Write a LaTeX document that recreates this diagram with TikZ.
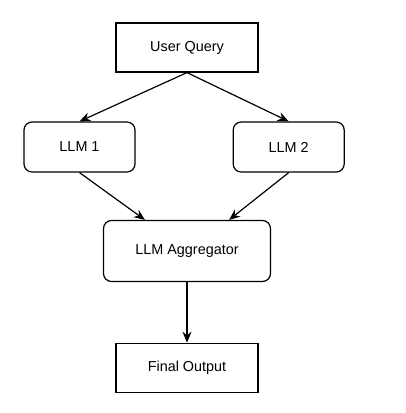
\documentclass[tikz,border=0pt]{standalone}
\usepackage{fontspec}
\setmainfont{Liberation Sans}
\usetikzlibrary{arrows.meta,calc}

\begin{document}
\begin{tikzpicture}[x=1pt,y=-1pt,>={Stealth[length=11pt,width=9pt]},line width=1.2pt,
box/.style={draw,minimum width=142pt,minimum height=49pt,inner sep=0pt,font=\fontsize{14.4}{17}\selectfont},
rbox/.style={box,rounded corners=8pt}]
\useasboundingbox(0,0)rectangle(406,413);
\node[box](query)at(187,47.5){User Query};
\node[rbox,minimum width=111pt,minimum height=50pt](llma)at(79.5,147){LLM 1};
\node[rbox,minimum width=111pt,minimum height=50pt](llmb)at(288.7,147){LLM 2};
\node[rbox,minimum width=167pt,minimum height=61pt](agg)at(187,251){LLM Aggregator};
\node[box](final)at(187,367.8){Final Output};
\draw[->](query.south)--(llma.north);
\draw[->](query.south)--(llmb.north);
\draw[->](llma.south)--($(agg.north)!0.5!(agg.north west)$);
\draw[->](llmb.south)--($(agg.north)!0.5!(agg.north east)$);
\draw[->](agg.south)--(final.north);
\end{tikzpicture}
\end{document}
